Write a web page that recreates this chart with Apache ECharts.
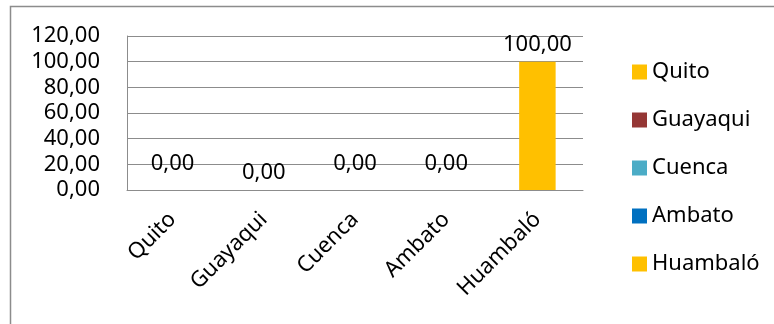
<!DOCTYPE html>
<html>
<head>
<meta charset="utf-8">
<script src="https://cdn.jsdelivr.net/npm/echarts@6/dist/echarts.min.js"></script>
<style>
  html, body { margin: 0; padding: 0; background: #fff; }
  #chart { width: 774px; height: 324px; }
</style>
</head>
<body>
<div id="chart"></div>
<script>
// Cities and their values
const categories = ['Quito', 'Guayaqui', 'Cuenca', 'Ambato', 'Huambaló'];
const values = [0, 0, 0, 0, 100];
const colors = ['#FFC000', '#953735', '#4BACC6', '#0070C0', '#FFC000'];
// Extra lift applied to each value label (pixels)
const labelLift = [-9, 0, -9, -9, 0];

const FONT = 'Noto Sans';
const fmt = v => Number(v).toFixed(2).replace('.', ',');

// One series per city so each gets its own legend entry; stacking keeps bars centred
const series = categories.map((name, i) => ({
  name: name,
  type: 'bar',
  stack: 'all',
  barWidth: '40%',
  itemStyle: { color: colors[i] },
  label: {
    show: true,
    position: 'top',
    distance: 6,
    offset: [0, labelLift[i]],
    color: '#000',
    fontFamily: FONT,
    fontSize: 22,
    formatter: p => fmt(p.value)
  },
  data: values.map((v, j) => (j === i ? v : '-'))
}));

const chart = echarts.init(document.getElementById('chart'), null, { renderer: 'canvas' });
chart.setOption({
  animation: false,
  backgroundColor: '#fff',
  textStyle: { fontFamily: FONT },
  graphic: [{
    type: 'rect',
    shape: { x: 10.5, y: 6.5, width: 800, height: 400 },
    style: { fill: 'none', stroke: '#8c8c8c', lineWidth: 1.5 },
    silent: true
  }],
  grid: { left: 127, top: 36, width: 456, height: 154, containLabel: false },
  legend: {
    orient: 'vertical',
    left: 627,
    top: 56,
    itemWidth: 15,
    itemHeight: 15,
    itemGap: 26,
    icon: 'rect',
    textStyle: { fontFamily: FONT, fontSize: 22, color: '#000' },
    data: categories
  },
  xAxis: {
    type: 'category',
    data: categories,
    axisTick: { show: false },
    axisLine: { show: true, lineStyle: { color: '#8c8c8c', width: 1 } },
    axisLabel: {
      rotate: 45,
      margin: 26,
      interval: 0,
      color: '#000',
      fontFamily: FONT,
      fontSize: 22
    }
  },
  yAxis: {
    type: 'value',
    min: 0,
    max: 120,
    interval: 20,
    axisLine: { show: true, lineStyle: { color: '#8c8c8c', width: 1 } },
    axisTick: { show: false },
    splitLine: { lineStyle: { color: '#8c8c8c', width: 1 } },
    axisLabel: {
      margin: 27,
      color: '#000',
      fontFamily: FONT,
      fontSize: 22,
      formatter: v => fmt(v)
    }
  },
  series: series
});
</script>
</body>
</html>
